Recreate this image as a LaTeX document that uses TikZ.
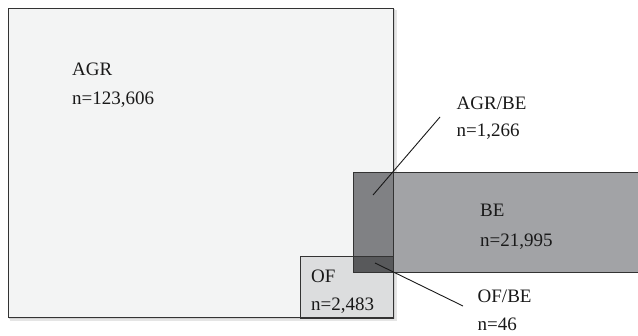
\documentclass[tikz,border=0pt]{standalone}
\usepackage{fontspec}
\setmainfont{Liberation Serif}
\begin{document}
\begin{tikzpicture}[x=1bp,y=-1bp,
  region/.style={draw=black!80, line width=0.8bp, inner sep=0pt, anchor=north west},
  lbl/.style={anchor=base west, inner sep=0pt, text=black!90, font=\fontsize{19bp}{23bp}\selectfont},
  pointer/.style={draw=black!90, line width=0.9bp}]
\useasboundingbox (0,0) rectangle (638,335);
\begin{scope}
\clip (0,0) rectangle (638,335);
% soft shadow behind the large set
\fill[black!10] (10,10) rectangle (397,321);
\fill[black!18] (9,9) rectangle (395,319);
% set areas
\node[region, fill={rgb,255:red,243;green,244;blue,244}, minimum width=385bp, minimum height=309bp] (agr) at (8,8) {};
\node[region, fill={rgb,255:red,162;green,163;blue,166}, minimum width=295bp, minimum height=99.5bp] (be) at (353,172) {};
\node[region, fill={rgb,255:red,220;green,221;blue,222}, minimum width=93bp, minimum height=61.5bp] (of) at (300,256) {};
% intersections
\node[region, draw=none, fill={rgb,255:red,128;green,129;blue,132}, minimum width=40bp, minimum height=84bp] (agrbe) at (353,172) {};
\node[region, draw=none, fill={rgb,255:red,88;green,89;blue,91}, minimum width=40bp, minimum height=15.5bp] (ofbe) at (353,256) {};
% outlines on top
\draw[black!80, line width=0.8bp] (agr.north west) rectangle (agr.south east);
\draw[black!80, line width=0.8bp] (be.north west) rectangle (be.south east);
\draw[black!80, line width=0.8bp] (of.north west) rectangle (of.south east);
\end{scope}
% labels
\node[lbl] (agrname) at (72,75) {AGR};
\node[lbl] (agrn) at (72,104) {n=123,606};
\node[lbl] (bename) at (480,216.7) {BE};
\node[lbl] (ben) at (480,246) {n=21,995};
\node[lbl] (ofname) at (311,282.7) {OF};
\node[lbl] (ofn) at (311,310) {n=2,483};
\node[lbl] (agrbename) at (456.5,109.3) {AGR/BE};
\node[lbl] (agrben) at (456.5,136.7) {n=1,266};
\node[lbl] (ofbename) at (477.5,302.7) {OF/BE};
\node[lbl] (ofben) at (477.5,330.5) {n=46};
% pointers from intersections to their labels
\coordinate (agrbein) at (373,195);
\coordinate (agrbeout) at (440,117);
\coordinate (ofbein) at (375,263);
\coordinate (ofbeout) at (463,306);
\draw[pointer] (agrbein) -- (agrbeout);
\draw[pointer] (ofbein) -- (ofbeout);
\end{tikzpicture}
\end{document}
